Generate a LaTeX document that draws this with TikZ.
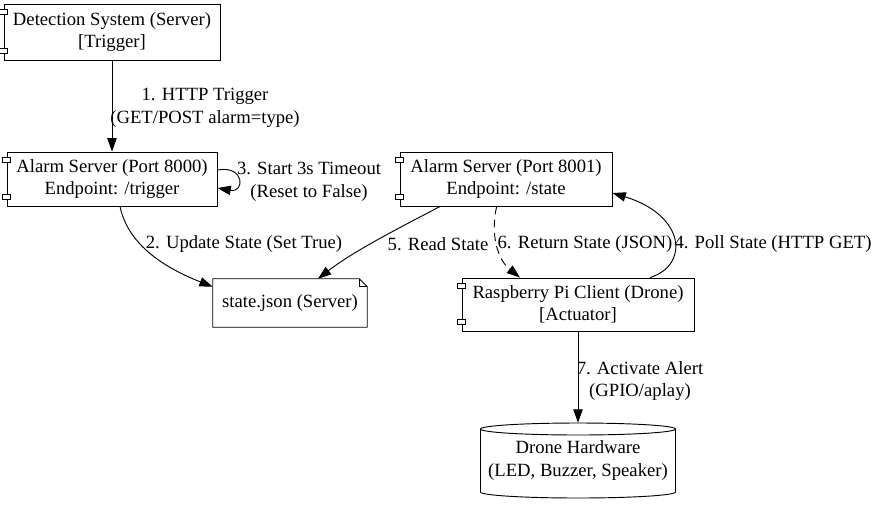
\documentclass[tikz,border=0pt]{standalone}
\usepackage{fontspec}
\setmainfont{Liberation Serif}
\usetikzlibrary{arrows.meta,calc}
\tikzset{
  box/.style={draw, rectangle, align=center, inner sep=0pt, line width=0.7pt},
  lbl/.style={align=center, inner sep=0pt},
  conn/.style={line width=0.7pt, -{Triangle[length=10pt,width=7pt]}},
  tab/.style={draw, fill=white, line width=0.7pt},
  shapeline/.style={line width=0.7pt},
}
\begin{document}
\begin{tikzpicture}[x=0.75pt,y=-0.75pt,font=\fontsize{14}{16.8}\selectfont]
\useasboundingbox (0,0) rectangle (874,504);
% nodes
\node[box, minimum width=162pt, minimum height=42pt] (det) at (112,32) {Detection System (Server)\\{}[Trigger]};
\node[box, minimum width=157.5pt, minimum height=40.5pt] (a0) at (112,179) {Alarm Server (Port 8000)\\Endpoint: /trigger};
\node[box, minimum width=159pt, minimum height=40.5pt] (a1) at (506,179) {Alarm Server (Port 8001)\\Endpoint: /state};
\node[lbl, minimum width=115.5pt, minimum height=36pt] (json) at (290,303) {state.json (Server)};
\node[box, minimum width=174pt, minimum height=39.75pt] (rpi) at (578,304.5) {Raspberry Pi Client (Drone)\\{}[Actuator]};
\node[lbl, minimum width=146.25pt, minimum height=56.25pt] (cyl) at (578,460.5) {Drone Hardware\\(LED, Buzzer, Speaker)};
% component tabs
\foreach \n in {det,a0,a1,rpi}{
  \draw[tab] ($(\n.north west)+(-4,6)$) rectangle ($(\n.north west)+(4,11)$);
  \draw[tab] ($(\n.south west)+(-4,-7)$) rectangle ($(\n.south west)+(4,-12)$);
}
% note shape
\draw[shapeline] (json.south west) -- (json.north west) -- ($(json.north east)+(-8,0)$) -- ($(json.north east)+(0,8)$) -- (json.south east) -- cycle;
\draw[shapeline] ($(json.north east)+(-8,0)$) -- ($(json.north east)+(-8,8)$) -- ($(json.north east)+(0,8)$);
% cylinder
\draw[shapeline] (480.5,429) -- (480.5,492) arc[start angle=180,end angle=360,x radius=73.125pt,y radius=4.5pt] -- (675.5,429);
\draw[shapeline] (578,429) ellipse [x radius=73.125pt, y radius=4.5pt];
% labels
\node[lbl] (l1) at (205,108) {1. HTTP Trigger\\(GET/POST alarm=type)};
\node[lbl] (l3) at (309,182) {3. Start 3s Timeout\\(Reset to False)};
\node[lbl] (l2) at (244,244) {2. Update State (Set True)};
\node[lbl] (l5) at (438,244) {5. Read State};
\node[lbl] (l6) at (585,244) {6. Return State (JSON)};
\node[lbl] (l4) at (773,244) {4. Poll State (HTTP GET)};
\node[lbl] (l7) at (640,381) {7. Activate Alert\\(GPIO/aplay)};
% connectors
\draw[conn] (det.south) -- (a0.north);
\draw[conn] ([yshift=6.75pt]a0.east) .. controls (245,165) and (245,193) .. ([yshift=-6.75pt]a0.east);
\draw[conn] ([xshift=6pt]a0.south) .. controls (128,245) and (165,268) .. ([yshift=-6pt]json.north west);
\draw[conn] ([xshift=-49.5pt]a1.south) .. controls (405,225) and (355,250) .. ([xshift=21pt]json.north);
\draw[conn, dash pattern=on 6pt off 4pt] ([xshift=-7pt]a1.south) .. controls (490,235) and (498,260) .. ([xshift=-43.5pt]rpi.north);
\draw[conn] ([xshift=54pt]rpi.north) .. controls (690,265) and (685,215) .. ([yshift=-10.5pt]a1.east);
\draw[conn] (rpi.south) -- (cyl.north);
\end{tikzpicture}
\end{document}
